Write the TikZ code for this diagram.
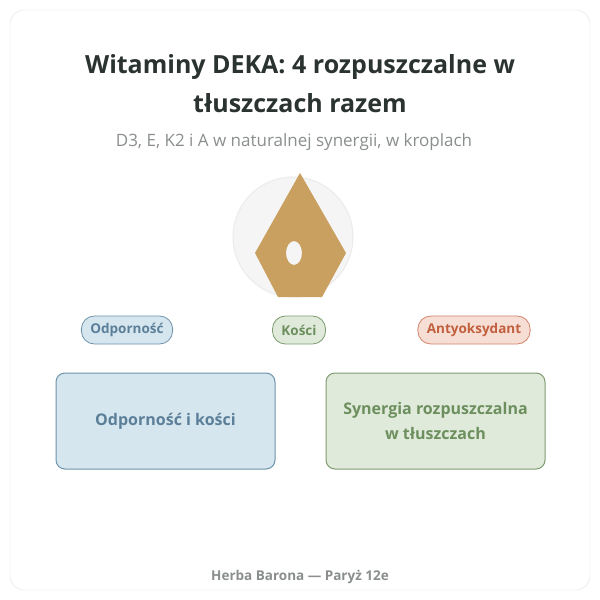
\documentclass[tikz,border=0pt]{standalone}
\usepackage{fontspec}
\setmainfont{Open Sans}
\usetikzlibrary{positioning,shapes}
\definecolor{inkdark}{HTML}{2B3330}
\definecolor{inkgray}{HTML}{8A8F8C}
\definecolor{blueline}{HTML}{6E93AC}
\definecolor{bluefill}{HTML}{D6E6EF}
\definecolor{bluetext}{HTML}{5B7F99}
\definecolor{greenline}{HTML}{7E9C70}
\definecolor{greenfill}{HTML}{DFEADB}
\definecolor{greentext}{HTML}{6D8F5E}
\definecolor{redline}{HTML}{D4846A}
\definecolor{redfill}{HTML}{F7DED4}
\definecolor{redtext}{HTML}{C0603F}
\definecolor{gold}{HTML}{C9A060}
\begin{document}
\begin{tikzpicture}[x=1pt,y=-1pt,
        pill/.style={rectangle, rounded corners=13pt, draw, line width=0.8pt, font=\bfseries\fontsize{13.5}{15}\selectfont, minimum height=28pt, inner xsep=9pt},
        card/.style={rectangle, rounded corners=9pt, draw, line width=1pt, minimum width=219pt, minimum height=96pt, align=center, font=\bfseries\fontsize{16}{25}\selectfont}
    ]
    \useasboundingbox (0,0) rectangle (600,600);
    \draw[rounded corners=14pt, draw=black!12, fill=white] (10,10) rectangle (590,590);
    % title
    \node[align=center, text=inkdark, font=\bfseries\fontsize{25}{39}\selectfont] (title) at (300,84) {Witaminy DEKA: 4 rozpuszczalne w\\tłuszczach razem};
    \node[text=inkgray, font=\fontsize{17}{20}\selectfont] (subtitle) at (294,142) {D3, E, K2 i A w naturalnej synergii, w kroplach};
    % icon
    \node[circle, draw=black!8, fill=green!2!black!4, minimum size=120pt, line width=1pt] (badge) at (293,237) {};
    \fill[gold, even odd rule] (300,173) -- (346,253) -- (322,297) -- (278,297) -- (255,253) -- cycle
        (294,253) ellipse [x radius=8, y radius=12];
    % pills
    \node[pill, draw=blueline, fill=bluefill, text=bluetext] (immune) at (127,330) {Odporność};
    \node[pill, draw=greenline, fill=greenfill, text=greentext] (bones) at (299,330) {Kości};
    \node[pill, draw=redline, fill=redfill, text=redtext] (antiox) at (474,330) {Antyoksydant};
    % cards
    \node[card, draw=blueline, fill=bluefill, text=bluetext] (left) at (165.5,421) {Odporność i kości};
    \node[card, draw=greenline, fill=greenfill, text=greentext] (right) at (435.5,421) {Synergia rozpuszczalna\\w tłuszczach};
    \node[text=inkgray, font=\bfseries\fontsize{13.5}{15}\selectfont] (footer) at (300,577) {Herba Barona — Paryż 12e};
\end{tikzpicture}
\end{document}
